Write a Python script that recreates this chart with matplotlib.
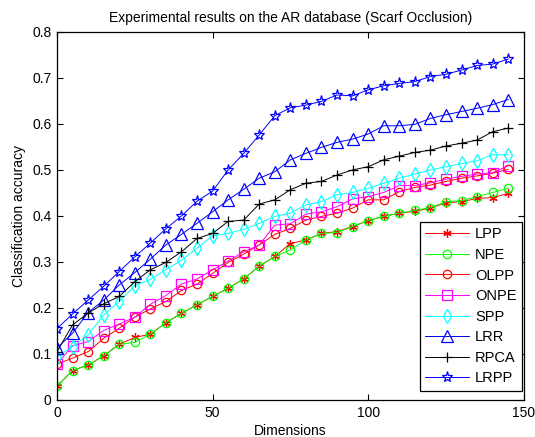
import matplotlib
matplotlib.use("Agg")
import matplotlib.pyplot as plt

plt.rcParams['font.family'] = ['Liberation Sans', 'DejaVu Sans']

dims = [0, 5, 10, 15, 20, 25, 30, 35, 40, 45, 50, 55, 60, 65, 70,
        75, 80, 85, 90, 95, 100, 105, 110, 115, 120, 125, 130, 135, 140, 145]

lpp = [0.030, 0.064, 0.076, 0.096, 0.121, 0.136, 0.143, 0.168, 0.188, 0.207,
       0.225, 0.243, 0.263, 0.291, 0.312, 0.340, 0.348, 0.362, 0.366, 0.377,
       0.390, 0.399, 0.406, 0.410, 0.417, 0.429, 0.431, 0.438, 0.440, 0.449]
npe = [0.030, 0.064, 0.076, 0.096, 0.121, 0.125, 0.143, 0.168, 0.188, 0.207,
       0.225, 0.243, 0.263, 0.291, 0.312, 0.326, 0.348, 0.362, 0.364, 0.377,
       0.390, 0.399, 0.406, 0.412, 0.418, 0.431, 0.433, 0.442, 0.451, 0.460]
olpp = [0.078, 0.091, 0.105, 0.134, 0.156, 0.180, 0.198, 0.214, 0.238, 0.252,
        0.275, 0.299, 0.317, 0.337, 0.360, 0.373, 0.391, 0.399, 0.406, 0.417,
        0.435, 0.435, 0.453, 0.462, 0.467, 0.475, 0.482, 0.487, 0.493, 0.501]
onpe = [0.078, 0.118, 0.127, 0.151, 0.165, 0.180, 0.208, 0.227, 0.252, 0.263,
        0.283, 0.302, 0.322, 0.337, 0.380, 0.383, 0.404, 0.409, 0.420, 0.437,
        0.442, 0.451, 0.466, 0.466, 0.472, 0.480, 0.486, 0.491, 0.494, 0.509]
spp = [0.094, 0.116, 0.141, 0.185, 0.214, 0.248, 0.262, 0.283, 0.304, 0.330,
       0.357, 0.362, 0.371, 0.384, 0.399, 0.406, 0.424, 0.431, 0.446, 0.451,
       0.460, 0.471, 0.482, 0.491, 0.500, 0.507, 0.514, 0.520, 0.533, 0.533]
lrr = [0.113, 0.145, 0.190, 0.217, 0.250, 0.277, 0.306, 0.337, 0.360, 0.384,
       0.409, 0.435, 0.458, 0.482, 0.496, 0.522, 0.536, 0.549, 0.560, 0.567,
       0.578, 0.596, 0.596, 0.599, 0.612, 0.620, 0.627, 0.634, 0.642, 0.653]
rpca = [0.105, 0.163, 0.189, 0.209, 0.225, 0.257, 0.283, 0.299, 0.322, 0.351,
        0.362, 0.388, 0.391, 0.426, 0.435, 0.457, 0.471, 0.475, 0.489, 0.500,
        0.507, 0.522, 0.530, 0.538, 0.543, 0.552, 0.558, 0.565, 0.583, 0.591]
lrpp = [0.155, 0.187, 0.217, 0.247, 0.279, 0.311, 0.341, 0.372, 0.400, 0.432,
        0.454, 0.500, 0.536, 0.576, 0.618, 0.635, 0.641, 0.649, 0.663, 0.661,
        0.674, 0.683, 0.688, 0.692, 0.703, 0.708, 0.717, 0.727, 0.730, 0.741]

# name, values, colour, marker, marker size
series = [
    ("LPP", lpp, "#ff0000", (6, 2, 0), 6),
    ("NPE", npe, "#00ff00", "o", 6),
    ("OLPP", olpp, "#ff0000", "o", 6),
    ("ONPE", onpe, "#ff00ff", "s", 7),
    ("SPP", spp, "#00ffff", "d", 7),
    ("LRR", lrr, "#0000ff", "^", 8),
    ("RPCA", rpca, "#000000", "+", 7),
    ("LRPP", lrpp, "#0000ff", "*", 8),
]

fig = plt.figure(figsize=(5.35, 4.37), dpi=100)
ax = fig.add_axes([0.1065, 0.0847, 0.8725, 0.8423])

for name, vals, col, mk, ms in series:
    ax.plot(dims, vals, color=col, marker=mk, markersize=ms, linewidth=0.7,
            markerfacecolor="none", markeredgecolor=col, markeredgewidth=0.9,
            label=name)

ax.set_xlim(0, 150)
ax.set_ylim(0, 0.8)
ax.set_xticks([0, 50, 100, 150])
ax.set_yticks([0, 0.1, 0.2, 0.3, 0.4, 0.5, 0.6, 0.7, 0.8])
ax.set_yticklabels(["0", "0.1", "0.2", "0.3", "0.4", "0.5", "0.6", "0.7", "0.8"])
ax.tick_params(direction="in", top=True, right=True, length=4, width=0.8,
               labelsize=10, pad=4)
for s in ax.spines.values():
    s.set_linewidth(0.9)

ax.set_title("Experimental results on the AR database (Scarf Occlusion)",
             fontsize=10, pad=7)
ax.set_xlabel("Dimensions", fontsize=10, labelpad=3)
ax.set_ylabel("Classification accuracy", fontsize=10, labelpad=4)

leg = ax.legend(loc="lower right", bbox_to_anchor=(0.997, 0.024),
                borderaxespad=0, fontsize=10.5, fancybox=False,
                edgecolor="black", framealpha=1, handlelength=3.0,
                handletextpad=0.4, labelspacing=0.45, borderpad=0.4)
leg.get_frame().set_linewidth(0.9)

fig.savefig("out.png", dpi=100)
